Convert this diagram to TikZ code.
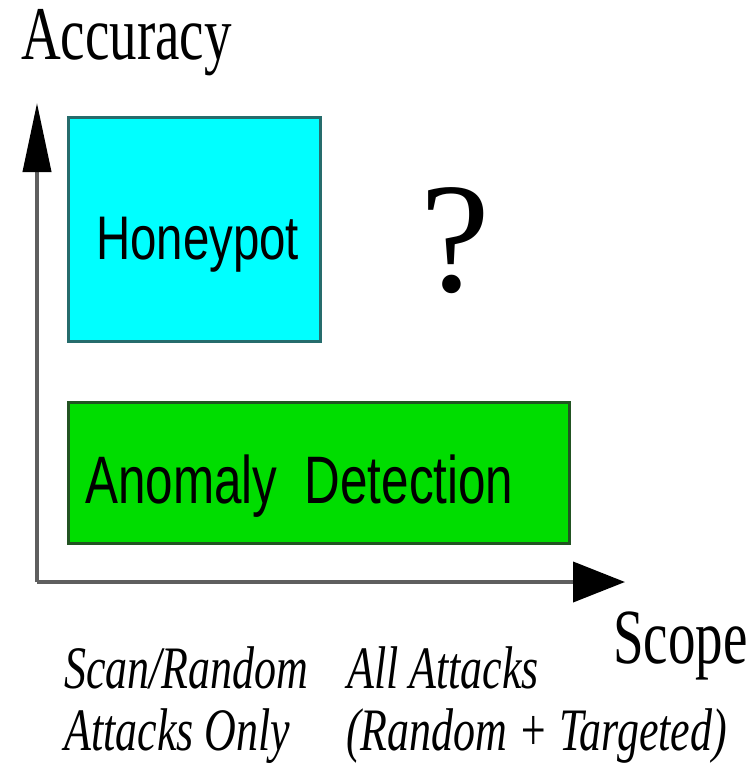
\documentclass[tikz,border=0pt]{standalone}
\usepackage{graphicx}
\usepackage{fontspec}
\setmainfont{Liberation Serif}
\newfontfamily\boxfont{Liberation Sans}
\usetikzlibrary{arrows.meta}

% vertical stretch of a piece of text about its baseline
\newcommand\tallText[2]{\scalebox{1}[#1]{#2}}

\definecolor{hpfill}{RGB}{0,255,255}
\definecolor{hpline}{RGB}{38,108,108}
\definecolor{adfill}{RGB}{0,221,0}
\definecolor{adline}{RGB}{34,84,34}
\definecolor{axisgray}{RGB}{95,95,95}

\begin{document}
\begin{tikzpicture}[x=1pt,y=-1pt,
  areabox/.style={draw, line width=3pt, inner sep=0pt, anchor=north west},
  axislabel/.style={inner sep=0pt, anchor=base west,
    font=\fontsize{55}{60}\selectfont},
  scopelabel/.style={inner sep=0pt, anchor=base west,
    font=\fontsize{44}{48}\selectfont\itshape},
  boxlabel/.style={inner sep=0pt, anchor=base west},
  axisline/.style={draw=axisgray, line width=4pt}
]
\useasboundingbox (0,0) rectangle (754,764);

% axes
\coordinate (origin) at (37,582);
\coordinate (ytip) at (37,103);
\coordinate (xtip) at (625,582);
\draw[axisline, -{Triangle[length=69pt,width=28pt,color=black]}]
  (origin) -- (ytip);
\draw[axisline, -{Triangle[length=52pt,width=40pt,color=black]}]
  (origin) -- (xtip);

% axis titles
\node[axislabel] (acc) at (21,59) {\tallText{1.38}{Accuracy}};
\node[axislabel] (scope) at (613,663) {\tallText{1.42}{Scope}};

% the two regions
\node[areabox, draw=hpline, fill=hpfill,
  minimum width=252pt, minimum height=224pt] (hp) at (67,116) {};
\node[areabox, draw=adline, fill=adfill,
  minimum width=501pt, minimum height=141pt] (ad) at (67,401) {};

\node[boxlabel, font=\boxfont\fontsize{47.4}{50}\selectfont] (hptext) at (96,259)
  {\tallText{1.3}{Honeypot}};
\node[boxlabel, font=\boxfont\fontsize{49.4}{52}\selectfont] (adtext) at (85,503)
  {\tallText{1.36}{Anomaly~~Detection}};

% open question
\node[boxlabel, font=\fontsize{157}{160}\selectfont] (qm) at (420,291) {?};

% scope categories
\node[scopelabel] (s1a) at (64,688) {\tallText{1.37}{Scan/Random}};
\node[scopelabel] (s1b) at (64,750) {\tallText{1.37}{Attacks Only}};
\node[scopelabel] (s2a) at (347,688) {\tallText{1.37}{All Attacks}};
\node[scopelabel] (s2b) at (346,750) {\tallText{1.37}{(Random + Targeted)}};
\end{tikzpicture}
\end{document}
